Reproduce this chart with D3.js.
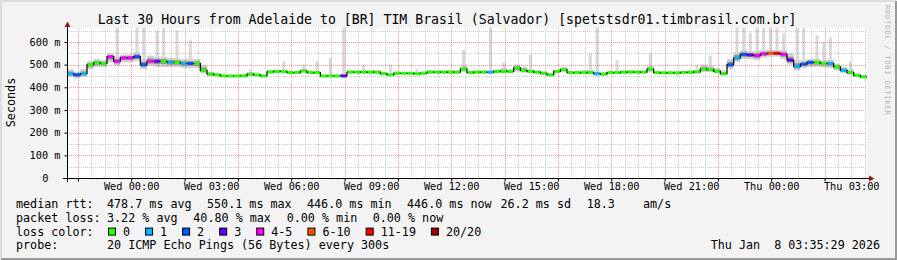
<!DOCTYPE html>
<html>
<head>
<meta charset="utf-8">
<script src="https://cdn.jsdelivr.net/npm/d3@7"></script>
<style>
body { margin: 0; background: #f3f3f3; }
svg { display: block; }
text { font-family: "DejaVu Sans Mono", monospace; fill: #000; white-space: pre; }
</style>
</head>
<body>
<svg id="chart" width="897" height="260"></svg>
<script>
// time window: last 30 hours, 15 min consolidated steps
var startTime = new Date(2026, 0, 6, 21, 35, 29);
var endTime = new Date(2026, 0, 8, 3, 35, 29);
var stepMinutes = 15;

// median rtt (ms) per step
var medianMs = [
	460,455,460,500,508,505,535,515,530,530,
	535,500,515,515,515,510,510,505,505,505,
	475,458,455,450,450,450,450,458,455,450,
	468,470,470,465,465,472,465,465,450,450,
	450,450,467,467,467,467,467,460,455,462,
	462,462,460,462,467,467,467,467,467,480,
	465,467,467,467,470,470,470,485,475,470,
	467,462,455,470,478,465,465,465,465,460,
	458,465,465,467,467,467,467,480,465,464,
	464,464,466,466,468,480,478,470,460,500,
	530,545,543,540,548,550,550,545,520,492,
	502,510,510,505,505,490,475,465,452,446
];
// lost pings out of 20 per step
var lossCount = [
	1,2,1,0,0,0,4,4,4,4,
	2,2,4,3,0,1,0,1,2,0,
	0,0,0,0,0,0,0,0,0,0,
	0,0,0,0,0,0,0,0,0,0,
	0,3,0,0,0,0,0,0,0,0,
	0,0,0,0,0,0,0,0,0,0,
	0,0,0,1,0,0,0,0,0,0,
	0,0,0,0,0,0,0,0,0,1,
	0,0,0,0,0,0,0,0,0,0,
	0,0,0,0,0,0,0,0,0,2,
	1,2,3,4,4,7,11,4,3,1,
	2,2,0,0,1,0,1,0,0,0
];
// smoke band (ms)
var smokeLowMs = [
	445,440,445,480,490,490,510,495,510,510,
	515,480,495,490,490,490,490,485,485,485,
	460,450,450,446,446,446,446,450,448,446,
	460,462,462,460,460,465,460,460,446,446,
	446,446,460,460,460,460,460,455,450,456,
	456,456,455,456,460,460,460,460,460,468,
	458,460,460,460,462,462,462,470,465,462,
	460,455,450,462,468,458,458,458,458,452,
	452,458,458,460,460,460,460,468,458,458,
	458,458,460,460,460,468,468,462,452,480,
	510,525,525,520,530,535,535,525,500,475,
	485,490,490,488,485,475,462,455,446,442
];
var smokeHighMs = [
	480,470,480,515,525,520,550,535,545,545,
	555,525,540,535,535,530,530,525,525,525,
	500,470,462,456,456,456,460,468,460,456,
	475,478,478,472,472,482,472,472,456,456,
	456,462,475,475,475,475,475,468,462,470,
	468,468,468,470,475,475,475,475,475,495,
	472,475,475,472,480,485,480,500,490,480,
	475,470,462,478,490,472,472,475,478,470,
	468,472,472,475,475,475,475,495,472,470,
	470,470,472,475,478,500,495,485,475,525,
	555,565,560,560,565,565,565,565,550,520,
	520,525,525,520,522,505,490,480,465,456
];
// single slow pings (step index, max ms)
var spikeIndex = [7,10,11,13,14,16,18,27,32,35,37,39,41,44,48,52,59,63,65,69,78,79,82,87,94,96,100,101,102,103,104,105,106,107,109,110,112,113,114,117];
var spikeMaxMs = [662,662,662,650,662,650,610,480,515,500,515,530,662,500,500,480,565,662,510,545,550,662,520,550,500,540,662,662,640,662,662,662,662,640,662,662,630,600,620,515];

var yTicks = [0, 100, 200, 300, 400, 500, 600];
var lossLabels = ['0', '1', '2', '3', '4-5', '6-10', '11-19', '20/20'];
var lossUpper = [0, 1, 2, 3, 5, 10, 19, 20];
var lossColors = ['#26ff00', '#00b8ff', '#0059ff', '#5e00ff', '#ff00ff', '#ff5500', '#ff0000', '#a00000'];

var titleText = 'Last 30 Hours from Adelaide to [BR] TIM Brasil (Salvador) [spetstsdr01.timbrasil.com.br]';
var rttStats = ['478.7 ms avg', '550.1 ms max', '446.0 ms min', '446.0 ms now', '26.2 ms sd', '18.3', 'am/s'];
var lossStats = ['3.22 % avg', '40.80 % max', '0.00 % min', '0.00 % now'];
var probeText = '20 ICMP Echo Pings (56 Bytes) every 300s';
var stampText = 'Thu Jan  8 03:35:29 2026';

var svg = d3.select('#chart');
var W = 897, H = 260;
var plot = { left: 67, top: 28, width: 800, height: 150 };
var bottom = plot.top + plot.height;

var xScale = d3.scaleTime()
	.domain([startTime, endTime])
	.range([plot.left, plot.left + plot.width]);
var yScale = d3.scaleLinear()
	.domain([0, 661.7])
	.range([bottom, plot.top]);

function stepTime(i) { return new Date(startTime.getTime() + i * stepMinutes * 60000); }
function lossColor(n) {
	for (var j = 0; j < lossUpper.length; j++) if (n <= lossUpper[j]) return lossColors[j];
	return lossColors[lossColors.length - 1];
}

// frame
svg.append('rect').attr('width', W).attr('height', H).attr('fill', '#f3f3f3');
svg.append('path').attr('d', 'M1,' + (H - 1) + 'V1H' + (W - 1)).attr('fill', 'none').attr('stroke', '#dcdcdc').attr('stroke-width', 2);
svg.append('path').attr('d', 'M1,' + (H - 1) + 'H' + (W - 1) + 'V1').attr('fill', 'none').attr('stroke', '#9a9a9a').attr('stroke-width', 2);

// canvas
svg.append('rect')
	.attr('x', plot.left).attr('y', plot.top)
	.attr('width', plot.width).attr('height', plot.height)
	.attr('fill', '#fff');

var steps = d3.range(medianMs.length);

// smoke
var smoke = svg.append('g').attr('class', 'smoke');
smoke.selectAll('.spike')
	.data(spikeIndex)
	.enter().append('rect')
	.attr('x', function(d) { return xScale(stepTime(d + 0.5)) - 1.5 })
	.attr('width', 3)
	.attr('y', function(d, k) { return yScale(spikeMaxMs[k]) })
	.attr('height', function(d, k) { return yScale(smokeHighMs[d]) - yScale(spikeMaxMs[k]) })
	.attr('fill', '#c4c4c4')
	.attr('opacity', 0.65);
smoke.selectAll('.band')
	.data(steps)
	.enter().append('rect')
	.attr('x', function(i) { return xScale(stepTime(i)) })
	.attr('width', function(i) { return xScale(stepTime(i + 1)) - xScale(stepTime(i)) })
	.attr('y', function(i) { return yScale(smokeHighMs[i]) })
	.attr('height', function(i) { return yScale(smokeLowMs[i]) - yScale(smokeHighMs[i]) })
	.attr('fill', '#d2d2d2');
smoke.selectAll('.core')
	.data(steps)
	.enter().append('rect')
	.attr('x', function(i) { return xScale(stepTime(i)) })
	.attr('width', function(i) { return xScale(stepTime(i + 1)) - xScale(stepTime(i)) })
	.attr('y', function(i) { return yScale((smokeHighMs[i] + medianMs[i]) / 2) })
	.attr('height', function(i) { return yScale((smokeLowMs[i] + medianMs[i]) / 2) - yScale((smokeHighMs[i] + medianMs[i]) / 2) })
	.attr('fill', '#939393');

// grid
var grid = svg.append('g').attr('class', 'grids').attr('stroke-dasharray', '1,1').attr('stroke-width', 1);
var majorX = xScale.ticks(d3.timeHour.every(2)).map(function(d) { return +d });
grid.selectAll('.x.minor')
	.data(xScale.ticks(d3.timeMinute.every(30)).filter(function(d) { return majorX.indexOf(+d) < 0 }))
	.enter().append('line')
	.attr('x1', function(d) { return Math.round(xScale(d)) + 0.5 })
	.attr('x2', function(d) { return Math.round(xScale(d)) + 0.5 })
	.attr('y1', plot.top).attr('y2', bottom)
	.attr('stroke', 'rgba(128,128,128,0.4)');
grid.selectAll('.y.minor')
	.data(d3.range(50, 661, 100))
	.enter().append('line')
	.attr('x1', plot.left).attr('x2', plot.left + plot.width)
	.attr('y1', function(d) { return Math.round(yScale(d)) + 0.5 })
	.attr('y2', function(d) { return Math.round(yScale(d)) + 0.5 })
	.attr('stroke', 'rgba(128,128,128,0.4)');
grid.selectAll('.x.major')
	.data(majorX)
	.enter().append('line')
	.attr('x1', function(d) { return Math.round(xScale(d)) + 0.5 })
	.attr('x2', function(d) { return Math.round(xScale(d)) + 0.5 })
	.attr('y1', plot.top).attr('y2', bottom)
	.attr('stroke', 'rgba(230,70,70,0.55)');
grid.selectAll('.y.major')
	.data(yTicks.slice(1))
	.enter().append('line')
	.attr('x1', plot.left).attr('x2', plot.left + plot.width)
	.attr('y1', function(d) { return Math.round(yScale(d)) + 0.5 })
	.attr('y2', function(d) { return Math.round(yScale(d)) + 0.5 })
	.attr('stroke', 'rgba(230,70,70,0.55)');

// median line: black steps, colored by loss
var stepPts = steps.map(function(i) { return [stepTime(i), medianMs[i]] });
stepPts.push([endTime, medianMs[medianMs.length - 1]]);
svg.append('path')
	.datum(stepPts)
	.attr('fill', 'none')
	.attr('stroke', '#000')
	.attr('stroke-width', 1.2)
	.attr('d', d3.line()
		.x(function(d) { return xScale(d[0]) })
		.y(function(d) { return yScale(d[1]) })
		.curve(d3.curveStepAfter));
svg.append('g').selectAll('line')
	.data(steps)
	.enter().append('line')
	.attr('x1', function(i) { return xScale(stepTime(i)) + 0.6 })
	.attr('x2', function(i) { return xScale(stepTime(i + 1)) - 0.6 })
	.attr('y1', function(i) { return yScale(medianMs[i]) })
	.attr('y2', function(i) { return yScale(medianMs[i]) })
	.attr('stroke', function(i) { return lossColor(lossCount[i]) })
	.attr('stroke-width', 3);

// axes
var xLabels = svg.append('g')
	.attr('transform', 'translate(0,' + bottom + ')')
	.call(d3.axisBottom(xScale)
		.ticks(d3.timeHour.every(3))
		.tickFormat(d3.timeFormat('%a %H:%M'))
		.tickSize(0).tickPadding(4.5));
xLabels.select('.domain').remove();
xLabels.selectAll('text').style('font-family', '"DejaVu Sans Mono", monospace').style('font-size', '10.27px').attr('fill', '#000');

var xTicks = svg.append('g')
	.attr('transform', 'translate(0,' + (bottom + 0.5) + ')')
	.call(d3.axisBottom(xScale).ticks(d3.timeHour.every(2)).tickFormat('').tickSize(3));
xTicks.select('.domain').remove();

var yAxis = svg.append('g')
	.attr('transform', 'translate(' + (plot.left + 0.5) + ',0)')
	.call(d3.axisLeft(yScale)
		.tickValues(yTicks)
		.tickFormat(function(d) { return d === 0 ? '0' : d + ' m' })
		.tickSize(3).tickPadding(4));
yAxis.select('.domain').remove();
yAxis.selectAll('text').style('font-family', '"DejaVu Sans Mono", monospace').style('font-size', '10.27px').attr('fill', '#000');
yAxis.selectAll('text').filter(function(d) { return d === 0 }).attr('x', -19);

svg.append('line')
	.attr('x1', plot.left - 4).attr('x2', plot.left + plot.width + 3)
	.attr('y1', bottom + 0.5).attr('y2', bottom + 0.5)
	.attr('stroke', '#000');
svg.append('line')
	.attr('x1', plot.left + 0.5).attr('x2', plot.left + 0.5)
	.attr('y1', bottom + 4).attr('y2', plot.top - 1)
	.attr('stroke', '#000');
svg.append('path')
	.attr('d', 'M' + (plot.left - 2.5) + ',' + (plot.top - 1) + 'L' + (plot.left + 0.5) + ',' + (plot.top - 6.5) + 'L' + (plot.left + 3.5) + ',' + (plot.top - 1) + 'Z')
	.attr('fill', '#8b1a1a');
var ax = plot.left + plot.width + 2;
svg.append('path')
	.attr('d', 'M' + ax + ',' + (bottom - 2.5) + 'L' + (ax + 5.5) + ',' + (bottom + 0.5) + 'L' + ax + ',' + (bottom + 3.5) + 'Z')
	.attr('fill', '#8b1a1a');

// title, unit, watermark
svg.append('text')
	.attr('x', 447).attr('y', 24)
	.attr('text-anchor', 'middle')
	.style('font-size', '13.2px')
	.text(titleText);
svg.append('text')
	.attr('transform', 'translate(14.5,102.5) rotate(-90)')
	.attr('text-anchor', 'middle')
	.style('font-size', '11.73px')
	.text('Seconds');
svg.append('text')
	.attr('transform', 'translate(885,5) rotate(90)')
	.attr('textLength', 110)
	.attr('lengthAdjust', 'spacing')
	.style('font-size', '7.3px')
	.style('fill', '#b4b4b4')
	.text('RRDTOOL / TOBI OETIKER');

// legend
var legend = svg.append('g').style('font-size', '11.73px');
var lineY = [208, 221.8, 235.6, 249.4];
legend.append('text').attr('x', 16).attr('y', lineY[0]).text('median rtt:');
var rttX = [107, 207, 307, 407, 500.5, 586.7, 643];
legend.selectAll('.rtt').data(rttStats).enter().append('text')
	.attr('x', function(d, i) { return rttX[i] }).attr('y', lineY[0]).text(function(d) { return d });

legend.append('text').attr('x', 16).attr('y', lineY[1]).text('packet loss:');
var lossX = [107, 193.3, 286.7, 372.7];
legend.selectAll('.loss').data(lossStats).enter().append('text')
	.attr('x', function(d, i) { return lossX[i] }).attr('y', lineY[1]).text(function(d) { return d });

legend.append('text').attr('x', 16).attr('y', lineY[2]).text('loss color:');
var charW = 7.06;
var bx = 108;
lossLabels.forEach(function(lbl, i) {
	legend.append('rect')
		.attr('x', bx + 0.5).attr('y', lineY[2] - 7.5)
		.attr('width', 7).attr('height', 7)
		.attr('fill', lossColors[i])
		.attr('stroke', '#000').attr('stroke-width', 1);
	legend.append('text').attr('x', bx + 15).attr('y', lineY[2]).text(lbl);
	bx += 15 + lbl.length * charW + 15;
});

legend.append('text').attr('x', 16).attr('y', lineY[3]).text('probe:');
legend.append('text').attr('x', 107).attr('y', lineY[3]).text(probeText);
legend.append('text').attr('x', 880).attr('y', lineY[3]).attr('text-anchor', 'end').text(stampText);
</script>
</body>
</html>
